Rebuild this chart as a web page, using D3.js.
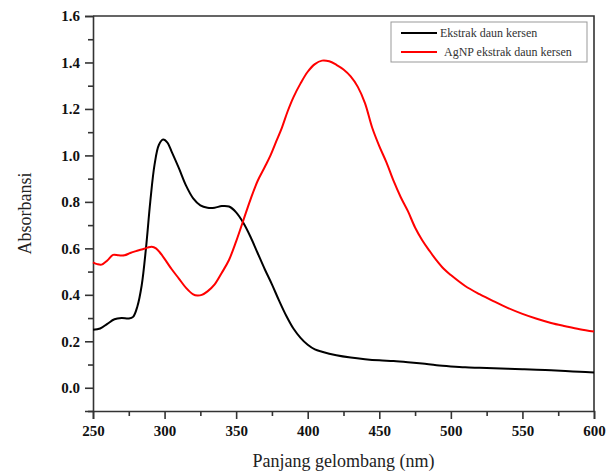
<!DOCTYPE html>
<html>
<head>
<meta charset="utf-8">
<script src="https://cdn.jsdelivr.net/npm/d3@7"></script>
<style>
  body { margin: 0; background: #fff; }
  svg { display: block; font-family: "Liberation Serif", "Times New Roman", serif; }
</style>
</head>
<body>
<div id="chart"></div>
<script>
// wavelength (nm) and absorbance
const ekstrakNm = [250, 255, 260, 265, 270, 275, 278, 281, 284, 287, 290, 293, 296, 299, 302, 305, 310, 315, 320, 325, 330, 335, 340, 345, 350, 355, 360, 365, 370, 375, 380, 385, 390, 395, 400, 405, 410, 420, 430, 440, 450, 460, 470, 480, 490, 500, 510, 520, 530, 540, 550, 560, 570, 580, 590, 600];
const ekstrakAbs = [0.25, 0.255, 0.275, 0.295, 0.30, 0.298, 0.305, 0.35, 0.44, 0.60, 0.80, 0.96, 1.045, 1.068, 1.055, 1.015, 0.945, 0.87, 0.815, 0.785, 0.775, 0.775, 0.782, 0.78, 0.755, 0.71, 0.65, 0.58, 0.51, 0.445, 0.375, 0.31, 0.255, 0.215, 0.185, 0.165, 0.155, 0.14, 0.13, 0.123, 0.118, 0.115, 0.11, 0.104, 0.097, 0.092, 0.088, 0.086, 0.084, 0.082, 0.08, 0.078, 0.075, 0.072, 0.069, 0.066];

const agnpNm = [250, 253, 256, 260, 264, 268, 272, 276, 280, 284, 288, 291, 294, 297, 300, 305, 310, 315, 320, 323, 326, 330, 335, 340, 345, 350, 355, 360, 365, 370, 374, 378, 382, 386, 390, 395, 400, 405, 410, 415, 420, 425, 430, 435, 440, 445, 450, 455, 460, 465, 470, 475, 480, 485, 490, 495, 500, 510, 520, 530, 540, 550, 560, 570, 580, 590, 600];
const agnpAbs = [0.54, 0.532, 0.53, 0.548, 0.572, 0.57, 0.57, 0.58, 0.588, 0.595, 0.603, 0.607, 0.60, 0.58, 0.555, 0.51, 0.47, 0.43, 0.402, 0.397, 0.40, 0.415, 0.445, 0.495, 0.55, 0.63, 0.72, 0.81, 0.89, 0.95, 1.0, 1.06, 1.12, 1.19, 1.25, 1.31, 1.36, 1.393, 1.408, 1.405, 1.39, 1.37, 1.34, 1.295, 1.225, 1.12, 1.04, 0.97, 0.89, 0.82, 0.76, 0.69, 0.635, 0.59, 0.548, 0.512, 0.485, 0.438, 0.403, 0.372, 0.343, 0.318, 0.297, 0.279, 0.265, 0.252, 0.242];

const xTicks = [250, 300, 350, 400, 450, 500, 550, 600];
const yTicks = [0.0, 0.2, 0.4, 0.6, 0.8, 1.0, 1.2, 1.4, 1.6];

const series = [
  { name: 'Ekstrak daun kersen', color: '#000000', nm: ekstrakNm, abs: ekstrakAbs },
  { name: 'AgNP ekstrak daun kersen', color: '#ff0000', nm: agnpNm, abs: agnpAbs }
];

const width = 608, height = 476;
const margin = { left: 93, right: 14, top: 16, bottom: 65 };

const svg = d3.select('#chart')
  .append('svg')
  .attr('width', width)
  .attr('height', height);

const x = d3.scaleLinear().domain([250, 600]).range([margin.left, width - margin.right]);
const y = d3.scaleLinear().domain([-0.1, 1.6]).range([height - margin.bottom, margin.top]);

// axes: major + minor ticks, outward
svg.append('g')
  .attr('transform', `translate(0,${y(-0.1)})`)
  .call(d3.axisBottom(x).tickValues(xTicks).tickFormat(d3.format('d')).tickSize(8).tickPadding(6));
svg.append('g')
  .attr('transform', `translate(0,${y(-0.1)})`)
  .call(d3.axisBottom(x).tickValues(d3.range(275, 600, 50)).tickFormat('').tickSize(5))
  .call(g => g.select('.domain').remove());

svg.append('g')
  .attr('transform', `translate(${x(250)},0)`)
  .call(d3.axisLeft(y).tickValues(yTicks).tickFormat(d3.format('.1f')).tickSize(8).tickPadding(5));
svg.append('g')
  .attr('transform', `translate(${x(250)},0)`)
  .call(d3.axisLeft(y).tickValues([-0.1, 0.1, 0.3, 0.5, 0.7, 0.9, 1.1, 1.3, 1.5]).tickFormat('').tickSize(5))
  .call(g => g.select('.domain').remove());

svg.selectAll('.domain, .tick line')
  .attr('stroke', '#333')
  .attr('stroke-width', 1.6);
svg.selectAll('.tick text')
  .attr('fill', '#111')
  .style('font-family', '"Liberation Serif", serif')
  .style('font-size', '15px')
  .style('font-weight', 'bold');

// top and right frame
svg.append('path')
  .attr('d', `M${x(250)},${y(1.6)}H${x(600)}V${y(-0.1)}`)
  .attr('fill', 'none')
  .attr('stroke', '#333')
  .attr('stroke-width', 1.6);

// curves
const line = d3.line()
  .x(d => x(d[0]))
  .y(d => y(d[1]))
  .curve(d3.curveCatmullRom.alpha(0.5));

series.forEach(s => {
  svg.append('path')
    .datum(s.nm.map((n, i) => [n, s.abs[i]]))
    .attr('fill', 'none')
    .attr('stroke', s.color)
    .attr('stroke-width', 2)
    .attr('stroke-linejoin', 'round')
    .attr('d', line);
});

// legend
const legend = svg.append('g').attr('transform', 'translate(391,22)');
legend.append('rect')
  .attr('width', 196)
  .attr('height', 40)
  .attr('fill', '#fff')
  .attr('stroke', '#999')
  .attr('stroke-width', 1);
series.forEach((s, i) => {
  const ly = 11 + i * 19;
  legend.append('line')
    .attr('x1', 10).attr('x2', 46)
    .attr('y1', ly).attr('y2', ly)
    .attr('stroke', s.color)
    .attr('stroke-width', 2);
  legend.append('text')
    .attr('x', i === 0 ? 49 : 53)
    .attr('y', ly + 4)
    .attr('fill', '#333')
    .style('font-size', '12px')
    .text(s.name);
});

// axis titles
svg.append('text')
  .attr('x', (x(250) + x(600)) / 2)
  .attr('y', 467)
  .attr('text-anchor', 'middle')
  .attr('fill', '#222')
  .style('font-size', '18px')
  .text('Panjang gelombang (nm)');

svg.append('text')
  .attr('transform', `translate(31,${y(0.75)}) rotate(-90)`)
  .attr('text-anchor', 'middle')
  .attr('fill', '#222')
  .style('font-size', '18px')
  .text('Absorbansi');
</script>
</body>
</html>
